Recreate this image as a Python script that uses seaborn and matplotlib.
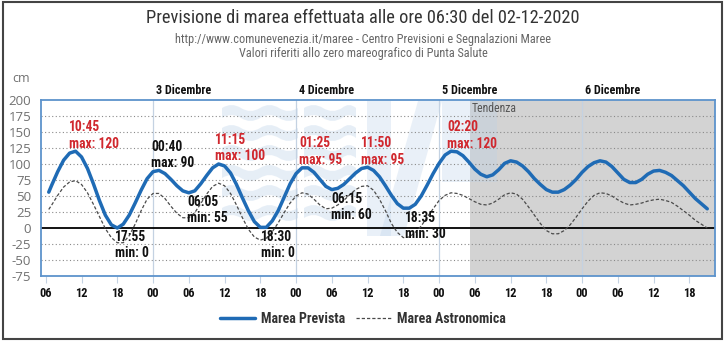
import matplotlib
matplotlib.use("Agg")
import matplotlib.pyplot as plt
import seaborn as sns
import pandas as pd
from matplotlib.lines import Line2D
from matplotlib.patches import Rectangle, Polygon, PathPatch
from matplotlib.path import Path
from matplotlib import font_manager

# ---------------- data (hours counted from 02-12-2020 00:00) ----------------
hours = [6.5] + list(range(7, 118))
prevista = [56, 67, 88, 106, 117, 120, 111, 93, 69, 43, 20, 5, 0, 6, 20, 39, 59, 77, 88,
            90, 85, 76, 66, 58, 55, 58, 69, 82, 94, 100, 97, 86, 68, 47, 27, 10, 1,
            1, 11, 27, 48, 69, 85, 94, 94, 87, 76, 65, 60, 62, 68, 77, 86, 93, 95,
            90, 80, 66, 51, 38, 31, 31, 37, 50, 67, 85, 101, 114, 120, 119, 113, 103,
            92, 84, 80, 83, 91, 101, 105, 103, 97, 88, 77, 68, 60, 56, 56, 60, 67, 76,
            87, 96, 102, 105, 103, 96, 86, 76, 71, 71, 76, 84, 89, 90, 87, 82, 74, 66,
            56, 46, 38, 30]
astronomica = [29, 36, 51, 64, 72, 74, 68, 55, 37, 18, -1, -15, -23, -23, -12, 6, 27, 45,
               54, 54, 46, 34, 23, 16, 16, 24, 38, 53, 65, 70, 66, 54, 36, 16, -2, -14,
               -19, -16, -6, 8, 24, 39, 50, 55, 53, 45, 36, 30, 31, 36, 43, 52, 60, 65,
               66, 59, 45, 27, 7, -7, -15, -14, -7, 3, 17, 30, 43, 51, 55, 54, 51, 46,
               41, 37, 36, 39, 45, 52, 55, 53, 45, 33, 20, 7, -4, -9, -9, -4, 5, 17, 30,
               42, 51, 55, 54, 50, 44, 39, 36, 37, 39, 42, 44, 45, 43, 40, 34, 27, 20,
               12, 6, 0]

ext_hours = [10.75, 17.92, 24.67, 30.08, 35.25, 42.5, 49.42, 54.25, 59.83, 66.58, 74.33]
ext_clock = ["10:45", "17:55", "00:40", "06:05", "11:15", "18:30", "01:25", "06:15",
             "11:50", "18:35", "02:20"]
ext_kind = ["max", "min", "max", "min", "max", "min", "max", "min", "max", "min", "max"]
ext_values = [120, 0, 90, 55, 100, 0, 95, 60, 95, 30, 120]

day_hours = [24, 48, 72, 96]
day_labels = ["3 Dicembre", "4 Dicembre", "5 Dicembre", "6 Dicembre"]
tick_hours = list(range(6, 115, 6))
tick_labels = ["06", "12", "18", "00", "06", "12", "18", "00", "06", "12", "18", "00",
               "06", "12", "18", "00", "06", "12", "18"]
y_ticks = [-75, -50, -25, 0, 25, 50, 75, 100, 125, 150, 175, 200]
tendenza_start = 77.2
series_names = ["Marea Prevista", "Marea Astronomica"]

# ---------------- style ----------------
sns.set_theme(style="white")
fl = font_manager.fontManager.ttflist
names = {f.name for f in fl}
cands = ["Liberation Sans Narrow", "Roboto Condensed", "Noto Sans Condensed",
         "Open Sans Condensed", "Noto Sans SemiCondensed", "Roboto", "Noto Sans"]
NARROW = next((c for c in cands if c in names), "DejaVu Sans")
plt.rcParams["font.family"] = [NARROW, "DejaVu Sans"]

BLUE = "#1f6bb5"
RED = "#d0282e"

W, H = 726, 347
fig = plt.figure(figsize=(W / 100, H / 100), dpi=100)
fig.patch.set_facecolor("white")
ax = fig.add_axes([41 / W, 71 / H, 674 / W, 176 / H])
ax.set_facecolor("white")
ax.set_xlim(5.2, 118.3)
ax.set_ylim(-75, 200)
renderer = fig.canvas.get_renderer()


def fit_size(text, target_px, weight="normal", base=10):
    t = fig.text(0, 0, text, fontsize=base, fontweight=weight)
    w = t.get_window_extent(renderer).width
    t.remove()
    return base * target_px / w


def px(x, y):
    """pixel position (from top-left of the image) -> figure fraction"""
    return (x / W, 1 - y / H)


ax.axvspan(tendenza_start, 118.3, color="#d3d3d3", lw=0, zorder=0)

# faint background logo (decoration)
WM = "#b9d0e8"
for row in range(6):
    yc = 113 + row * 20
    for x0, x1 in [(222, 298), (304, 356)]:
        verts, codes = [px(x0, yc - 5)], [Path.MOVETO]
        x, up = x0, True
        while x < x1:
            xn = min(x + 19, x1)
            verts += [px((x + xn) / 2, yc - 5 + (-6 if up else 6)), px(xn, yc - 5)]
            codes += [Path.CURVE3, Path.CURVE3]
            x, up = xn, not up
        back = []
        for v in reversed(verts):
            back.append((v[0], v[1] - 10 / H))
        verts += back
        codes += [Path.LINETO] + [c for c in reversed(codes[1:])]
        verts.append(verts[0])
        codes.append(Path.CLOSEPOLY)
        ax.add_patch(PathPatch(Path(verts, codes), transform=fig.transFigure, fc=WM,
                               ec="none", alpha=0.35, zorder=0.5))
for poly in [[(367, 101), (391, 101), (391, 236), (367, 236)],
             [(418, 101), (442, 101), (404, 236), (380, 236)],
             [(442, 101), (470, 101), (470, 182), (442, 182)],
             [(470, 101), (497, 101), (497, 182), (470, 182)]]:
    ax.add_patch(Polygon([px(*p) for p in poly], closed=True, transform=fig.transFigure,
                         fc=WM, ec="none", alpha=0.3, zorder=0.5))

for y in y_ticks:
    if y not in (-75, 200, 0):
        ax.axhline(y, color="#8a8a8a", lw=0.8, ls=(0, (1, 2.2)), zorder=1)
for h in day_hours:
    ax.axvline(h, color="#c4d2e2", lw=0.9, zorder=1)
ax.axhline(0, color="black", lw=1.3, zorder=2)

df = pd.DataFrame({"ora": hours * 2,
                   "cm": prevista + astronomica,
                   "serie": [series_names[0]] * len(hours) + [series_names[1]] * len(hours)})
sns.lineplot(data=df[df.serie == series_names[1]], x="ora", y="cm", ax=ax, color="#4a4a4a",
             lw=0.9, linestyle=(0, (2.6, 1.6)), zorder=3, legend=False)
sns.lineplot(data=df[df.serie == series_names[0]], x="ora", y="cm", ax=ax, color=BLUE,
             lw=2.5, zorder=4, legend=False)

for s in ax.spines.values():
    s.set_visible(True)
    s.set_color("#5d93cc")
    s.set_linewidth(1.3)
ax.set_xlabel("")
ax.set_ylabel("")

xt_size = fit_size("06", 12.5, "bold")
ax.set_xticks(tick_hours, tick_labels)
ax.tick_params(axis="x", bottom=True, length=5, width=0.8, color="#c4d2e2", pad=3,
               labelsize=xt_size, labelcolor="#111111")
for t in ax.get_xticklabels():
    t.set_fontweight("bold")
ax.set_yticks(y_ticks, [str(v) for v in y_ticks])
ax.tick_params(axis="y", left=False, length=0, pad=7, labelsize=9.5, labelcolor="#707070")
for t in ax.get_yticklabels():
    t.set_family(["Open Sans", "DejaVu Sans"])

# day labels
day_size = fit_size("3 Dicembre", 55, "bold")
for h, lab in zip(day_hours, day_labels):
    ax.annotate(lab, xy=(h, 1.0), xycoords=("data", "axes fraction"), xytext=(2, 2.5),
                textcoords="offset points", ha="left", va="bottom", fontsize=day_size,
                fontweight="bold", color="#111111")
ax.annotate("Tendenza", xy=(tendenza_start, 1.0), xycoords=("data", "axes fraction"),
            xytext=(1.5, -1.5), textcoords="offset points", ha="left", va="top",
            fontsize=fit_size("Tendenza", 45), color="#555555", zorder=6)

# extremum labels
ann_size = fit_size("max: 120", 50, "bold")
for h, clock, kind, v in zip(ext_hours, ext_clock, ext_kind, ext_values):
    col = RED if (kind == "max" and v >= 95) else "#111111"
    txt = f"{clock}\n{kind}: {v}"
    if kind == "max":
        ax.annotate(txt, xy=(h, v), xytext=(-4, 0.5), textcoords="offset points",
                    ha="left", va="bottom", fontsize=ann_size, fontweight="bold", color=col,
                    linespacing=1.2, zorder=6)
    else:
        ax.annotate(txt, xy=(h, v), xytext=(-1.5, -1.5), textcoords="offset points",
                    ha="left", va="top", fontsize=ann_size, fontweight="bold", color=col,
                    linespacing=1.2, zorder=6)

# titles
title = "Previsione di marea effettuata alle ore 06:30 del 02-12-2020"
sub1 = "http://www.comunevenezia.it/maree - Centro Previsioni e Segnalazioni Maree"
sub2 = "Valori riferiti allo zero mareografico di Punta Salute"
fig.text(0.5, 1 - 18 / H, title, ha="center", va="center",
         fontsize=fit_size(title, 430), color="#333333")
fig.text(0.5, 1 - 40 / H, sub1, ha="center", va="center",
         fontsize=fit_size(sub1, 373), color="#666666")
fig.text(0.5, 1 - 53 / H, sub2, ha="center", va="center",
         fontsize=fit_size(sub2, 246), color="#666666")
fig.text(12 / W, 1 - 79 / H, "cm", ha="left", va="center", fontsize=9, color="#707070",
         family=["Open Sans", "DejaVu Sans"])

# legend
leg_size = fit_size("Marea Astronomica", 109, "bold")
handles = [Line2D([], [], color=BLUE, lw=2.5),
           Line2D([], [], color="#4a4a4a", lw=0.9, ls=(0, (2.6, 1.6)))]
fig.legend(handles, series_names, loc="center", bbox_to_anchor=(363 / W, 1 - 319 / H),
           ncol=2, frameon=False, handlelength=2.5, columnspacing=0.8, handletextpad=0.45,
           prop={"weight": "bold", "size": leg_size}, labelcolor="#333333")

# outer frame
fig.add_artist(Rectangle((3 / W, 1 - 339 / H), 719 / W, 337 / H, transform=fig.transFigure,
                         fill=False, ec="#444444", lw=1.5))

fig.savefig("out.png", dpi=100)
